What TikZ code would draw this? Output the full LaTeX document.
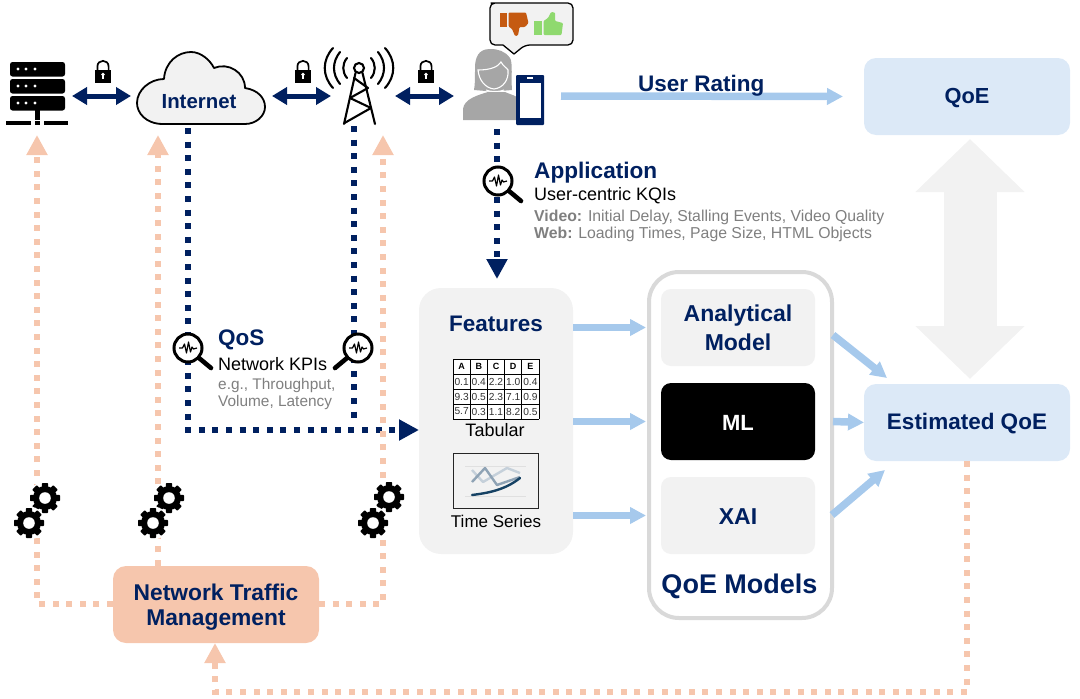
\documentclass[tikz,border=0pt]{standalone}
\usepackage{fontspec}
\setmainfont{Liberation Sans}
\usetikzlibrary{arrows.meta,calc}
\definecolor{navy}{HTML}{002060}
\definecolor{skyline}{HTML}{A6C9EC}
\definecolor{peach}{HTML}{F6C6AD}
\definecolor{paper}{HTML}{F2F2F2}
\definecolor{boxblue}{HTML}{DCE9F7}
\definecolor{ringgrey}{HTML}{D9D9D9}
\definecolor{mutedtext}{HTML}{7F7F7F}
\definecolor{persongrey}{HTML}{A6A6A6}
\definecolor{downcol}{HTML}{C55A11}
\definecolor{upcol}{HTML}{8FD96F}
\newcommand{\fs}[1]{\fontsize{#1pt}{#1pt}\selectfont}
\newcommand{\gearicon}[2]{%
  \begin{scope}[shift={(#1,#2)}]
    \fill[white] (0,0) circle (16.5);
    \foreach \a in {0,45,...,315}{
      \fill[black,rotate=\a,rounded corners=.8pt] (-3.2,-15) rectangle (3.2,0);
    }
    \fill[black] (0,0) circle (12);
    \fill[white] (0,0) circle (5.8);
  \end{scope}}
\newcommand{\lockicon}[2]{%
  \begin{scope}[shift={(#1,#2)}]
    \draw[black,line width=1.7pt] (-5.6,0) -- (-5.6,-4.5) .. controls (-5.6,-12) and (5.6,-12) .. (5.6,-4.5) -- (5.6,0);
    \fill[black] (-8,-1) rectangle (8,11.5);
    \fill[white] (0,3.5) circle (1.9);
    \fill[white] (-1,3.5) rectangle (1,8);
  \end{scope}}
\newcommand{\scopeicon}[3]{% x y handle-direction
  \begin{scope}[shift={(#1,#2)}]
    \draw[black,line width=4.6pt,line cap=round] (#3*11,10) -- (#3*23,20);
    \draw[black,line width=3pt,fill=white] (0,0) circle (14);
    \draw[black,line width=1.2pt,line join=round] (-9,0) -- (-5.5,0) -- (-3.5,-4) -- (-1.5,5) -- (0.5,-6) -- (2.5,4) -- (4,-1) -- (5.5,1) -- (9,0);
  \end{scope}}
\tikzset{
  navytxt/.style={text=navy,font=\bfseries},
  iconbox/.style={inner sep=0pt,outer sep=0pt,draw=none},
  softbox/.style={rounded corners=10pt,fill=paper,inner sep=0pt,outer sep=0pt,minimum width=154pt,minimum height=77pt},
  qoebox/.style={rounded corners=12pt,fill=boxblue,inner sep=0pt,outer sep=0pt,minimum width=206pt,minimum height=77pt},
  boxlabel/.style={inner sep=0pt,text=navy,align=center},
  linkarrow/.style={draw=navy,line width=5pt,{Triangle[length=15pt,width=17pt]}-{Triangle[length=15pt,width=17pt]}},
  flowarrow/.style={draw=skyline,line width=7.5pt,-{Triangle[length=16pt,width=16pt]}},
  navydots/.style={draw=navy,line width=6pt,dash pattern=on 6pt off 7.6pt,-{Triangle[length=20pt,width=20pt]}},
  navyplain/.style={draw=navy,line width=6pt,dash pattern=on 6pt off 7.6pt},
  peachdots/.style={draw=peach,line width=6pt,dash pattern=on 6pt off 7.6pt,-{Triangle[length=20pt,width=20pt]}},
  plaintxt/.style={inner sep=0pt,anchor=west},
}
\begin{document}
\begin{tikzpicture}[x=1pt,y=-1pt]
\useasboundingbox (0,0) rectangle (1080,699);
% ---- anchors for icons
\node[iconbox,minimum width=67pt,minimum height=70pt] (server) at (38.5,96) {};
\node[iconbox,minimum width=141pt,minimum height=74pt] (cloud) at (201.5,96) {};
\node[iconbox,minimum width=64pt,minimum height=80pt] (tower) at (363,96) {};
\node[iconbox,minimum width=107pt,minimum height=60pt] (person) at (507.5,96) {};
% ---- boxes
\coordinate (bigtop) at (970,139);
\coordinate (bigbot) at (970,379);
\draw[draw=paper,line width=53pt,{Triangle[length=53pt,width=106pt]}-{Triangle[length=53pt,width=106pt]}] (bigtop) -- (bigbot);
\node[qoebox] (qoe) at (967,96.5) {};
\node[boxlabel,font=\bfseries\fs{21.8}] (qoelabel) at (967,98) {QoE};
\node[qoebox] (estimated) at (967,422.5) {};
\node[boxlabel,font=\bfseries\fs{22.5}] (estlabel) at (967,424) {Estimated QoE};
\node[rounded corners=30pt,draw=ringgrey,fill=white,line width=4pt,inner sep=0pt,minimum width=183pt,minimum height=346pt] (models) at (740.5,445) {};
\node[softbox] (analytical) at (738,327.5) {};
\node[boxlabel,font=\bfseries\fs{23}] (anlabel1) at (738,316) {Analytical};
\node[boxlabel,font=\bfseries\fs{23}] (anlabel2) at (738,342.5) {Model};
\node[softbox,fill=black] (ml) at (738,421.5) {};
\node[boxlabel,text=white,font=\bfseries\fs{22}] (mllabel) at (738,423) {ML};
\node[softbox] (xai) at (738,515.5) {};
\node[boxlabel,font=\bfseries\fs{23}] (xailabel) at (738,517) {XAI};
\node[navytxt,font=\bfseries\fs{27},inner sep=0pt] (modelstitle) at (739.5,586) {QoE Models};
\node[rounded corners=22pt,fill=paper,inner sep=0pt,outer sep=0pt,minimum width=154pt,minimum height=266pt] (features) at (496,421) {};
\node[navytxt,font=\bfseries\fs{22.5},inner sep=0pt] (featurestitle) at (496,324) {Features};
\node[rounded corners=13pt,fill=peach,inner sep=0pt,outer sep=0pt,minimum width=206pt,minimum height=77pt] (ntm) at (216,604.5) {};
\node[boxlabel,font=\bfseries\fs{22.8}] (ntmlabel1) at (216,592.5) {Network Traffic};
\node[boxlabel,font=\bfseries\fs{22.8}] (ntmlabel2) at (216,620) {Management};
% ---- free ends of the dotted lines
\coordinate (cloudtap) at (188,128);
\coordinate (towertap) at (354,126);
\coordinate (towerend) at (354,417.6);
\coordinate (usertap) at (497,129);
\coordinate (qoscorner) at (188,430);
\coordinate (serverin) at (37,135);
\coordinate (cloudin) at (158,135);
\coordinate (towerin) at (383,135);
\coordinate (cloudfoot) at (158,566);
\coordinate (left1) at (37,604);
\coordinate (right1) at (383,604);
\coordinate (botright) at (967,692);
\coordinate (botleft) at (215,692);
% ---- connectors
\draw[linkarrow] (server.east) -- (cloud.west);
\draw[linkarrow] (cloud.east) -- (tower.west);
\draw[linkarrow] (tower.east) -- (person.west);
\draw[flowarrow,shorten >=21pt] (person.east) -- (qoe.west);
\draw[navydots,shorten >=9pt] (usertap) -- (usertap |- features.north);
\draw[navyplain] (towertap) -- (towerend);
\draw[navydots] (cloudtap) -- (qoscorner) -- (features.west |- qoscorner);
\draw[peachdots] (ntm.west |- left1) -- (left1) -- (serverin);
\draw[peachdots] (cloudfoot) -- (cloudin);
\draw[peachdots] (ntm.east |- right1) -- (right1) -- (towerin);
\draw[peachdots] (estimated.south) -- (botright) -- (botleft) -- (ntm.south -| botleft);
\draw[flowarrow] (features.east |- analytical.west) -- ([xshift=-1pt]analytical.west -| models.west);
\draw[flowarrow] (features.east |- ml.west) -- ([xshift=-1pt]ml.west -| models.west);
\draw[flowarrow] (features.east |- xai.west) -- ([xshift=-1pt]xai.west -| models.west);
\coordinate (an1) at (833,335);
\coordinate (an2) at (887,378);
\coordinate (xa1) at (832,515);
\coordinate (xa2) at (885,470);
\coordinate (ml1) at (833,421.5);
\draw[flowarrow] (an1) -- (an2);
\draw[flowarrow] (ml1) -- (estimated.west);
\draw[flowarrow] (xa1) -- (xa2);
% ---- server
\foreach \y in {62,79,96}{
  \fill[black,rounded corners=2.5pt] (10,\y) rectangle (65,\y+14.5);
  \foreach \x in {18,26,35}{\fill[white] (\x,\y+7) circle (1.7);}
}
\fill[black] (35,110) rectangle (40,120);
\fill[black] (6,120.5) rectangle (31,125);
\fill[black] (35,120.5) rectangle (40,125);
\fill[black] (43.5,120.5) rectangle (68,125);
% ---- locks
\lockicon{103}{71}
\lockicon{303}{71}
\lockicon{426}{71}
% ---- cloud
\draw[black,line width=1.8pt,fill=paper,line join=round]
 (163,124) .. controls (146,124) and (137,113) .. (137,103)
 .. controls (137,90) and (150,79) .. (164,79)
 .. controls (165,62) and (178,52) .. (191,52)
 .. controls (201,52) and (210,60) .. (214,68)
 .. controls (228,62) and (245,72) .. (245,88)
 .. controls (258,90) and (265,98) .. (265,107)
 .. controls (265,116) and (256,124) .. (245,124) -- cycle;
\node[navytxt,font=\bfseries\fs{20.4},inner sep=0pt] (internet) at (199,102) {Internet};
% ---- tower
\begin{scope}[black,line width=2.1pt,line cap=round]
\draw (359,68) circle (5);
\draw[line join=round] (355.5,73) -- (344,124) (362.5,73) -- (375,124);
\draw[line join=round] (354,78) -- (368,88) -- (350,98) -- (371,108) -- (344.5,123);
\foreach \s in {-1,1}{
  \draw (359+\s*26,48) .. controls (359+\s*37,60) and (359+\s*37,76) .. (359+\s*26,88);
  \draw (359+\s*19,52) .. controls (359+\s*27,62) and (359+\s*27,74) .. (359+\s*19,84);
  \draw (359+\s*12,58) .. controls (359+\s*17,64) and (359+\s*17,72) .. (359+\s*12,78);
}
\end{scope}
% ---- person
\fill[persongrey] (463,120) -- (463,109) .. controls (464,99) and (478,95) .. (488,92) -- (505,92) .. controls (512,95) and (517,96) .. (517,98) -- (517,120) -- cycle;
\fill[persongrey] (490,49) .. controls (478,49) and (475,58) .. (475,68) .. controls (475,78) and (475,85) .. (474,90) -- (486,91) -- (500,91) -- (512,90) .. controls (511,80) and (513,62) .. (510,58) .. controls (505,51) and (498,49) .. (490,49) -- cycle;
\draw[white,line width=1.1pt] (478,70) .. controls (490,70) and (498,67) .. (501,62) .. controls (503,66) and (507,68) .. (508,70) .. controls (509,80) and (503,88) .. (494,89) .. controls (485,88) and (479,80) .. (478,70) -- cycle;
\draw[white,line width=1pt] (486,90) .. controls (490,92) and (500,92) .. (504,90);
\fill[navy,rounded corners=1pt] (516,75) rectangle (544,125);
\fill[white] (520,83) rectangle (540.5,118);
\fill[white] (527,77) rectangle (533,79.3);
% ---- speech bubble
\draw[black,line width=1.3pt,fill=paper,line join=round,rounded corners=5pt]
 (496,3) -- (573,3) -- (573,45) -- (525,45) [sharp corners] -- (514,54) -- (503,45) [rounded corners=5pt] -- (490,45) -- (490,3) -- cycle;
\fill[downcol] (499.5,13) rectangle (506.5,27);
\fill[downcol,rounded corners=1pt] (508.5,12.5) -- (526,12.5) -- (528.5,23) -- (525,27) -- (519.5,27) -- (518,35.5) -- (515,36) -- (512,29) -- (508.5,26.5) -- cycle;
\fill[upcol] (534,21) rectangle (541.5,35);
\fill[upcol,rounded corners=1pt] (543.5,21) -- (548,18) -- (551,12) -- (555,12.5) -- (555,21) -- (563,23) -- (561.5,35) -- (543.5,35) -- cycle;
% ---- magnifiers
\scopeicon{498}{181}{1}
\scopeicon{188}{348}{1}
\scopeicon{358}{348}{-1}
% ---- application text
\node[navytxt,plaintxt,font=\bfseries\fs{22.6}] (apptitle) at (534,173) {Application};
\node[plaintxt,font=\fs{18}] (kqis) at (534,195.5) {User-centric KQIs};
\node[plaintxt,font=\fs{15.8},text=mutedtext] (videoline) at (534,217) {\textbf{Video:} Initial Delay, Stalling Events, Video Quality};
\node[plaintxt,font=\fs{15.8},text=mutedtext] (webline) at (534,234.5) {\textbf{Web:} Loading Times, Page Size, HTML Objects};
\node[navytxt,plaintxt,font=\bfseries\fs{22.5}] (userrating) at (638,86) {User Rating};
% ---- qos text
\node[navytxt,plaintxt,font=\bfseries\fs{22.5}] (qostitle) at (218,340) {QoS};
\node[plaintxt,font=\fs{18}] (kpis) at (218,364.5) {Network KPIs};
\node[plaintxt,font=\fs{15.4},text=mutedtext] (kpia) at (218,386) {e.g., Throughput,};
\node[plaintxt,font=\fs{15.4},text=mutedtext] (kpib) at (218,403) {Volume, Latency};
% ---- table
\fill[white] (453,359) rectangle (539,419);
\foreach \row [count=\r from 0] in {{A,B,C,D,E},{0.1,0.4,2.2,1.0,0.4},{9.3,0.5,2.3,7.1,0.9},{5.7,0.3,1.1,8.2,0.5}}{
  \foreach \v [count=\c from 0] in \row {
    \ifnum\r=0
      \node[inner sep=0pt,font=\bfseries\fs{9}] (cell-\r-\c) at (461.6+17.2*\c,366.5+15*\r) {\v};
    \else
      \node[inner sep=0pt,font=\fs{10.2},text=black!80] (cell-\r-\c) at (461.6+17.2*\c,366.5+15*\r) {\v};
    \fi
  }
}
\foreach \i in {0,...,5}{\draw[black,line width=.8pt] (453+17.2*\i,359) -- (453+17.2*\i,419);}
\foreach \j in {0,...,4}{\draw[black,line width=.8pt] (453,359+15*\j) -- (539,359+15*\j);}
\node[inner sep=0pt,font=\fs{18}] (tabular) at (495,430.5) {Tabular};
% ---- chart
\draw[black!85,line width=1pt,fill=paper] (453,453) rectangle (538,508);
\draw[black!12,line width=1pt] (465,466) -- (526,466) (465,496) -- (526,496);
\draw[draw={rgb,255:red,197;green,208;blue,218},line width=2.4pt,line join=round] (472,470) -- (483,482) -- (507,468) -- (520,473);
\draw[draw={rgb,255:red,143;green,163;blue,181},line width=2.4pt,line join=round] (472,482) -- (485,468) -- (497,485) -- (520,477);
\draw[draw={rgb,255:red,22;green,66;blue,100},line width=2.4pt,line cap=round] (472,495) .. controls (488,493) and (505,490) .. (520,478);
\node[inner sep=0pt,font=\fs{17}] (timeseries) at (496,521.5) {Time Series};
% ---- gears
\gearicon{45}{498}
\gearicon{29}{523}
\gearicon{169}{498}
\gearicon{153}{523}
\gearicon{389}{497}
\gearicon{373}{523}
\end{tikzpicture}
\end{document}
